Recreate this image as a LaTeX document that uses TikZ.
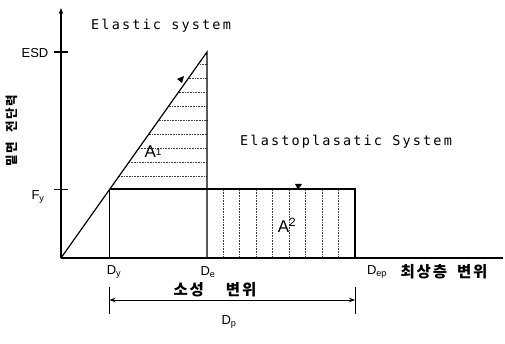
\documentclass[tikz,border=0pt]{standalone}
\usepackage{fontspec}
\setmainfont{Liberation Sans}
\newfontfamily\monolbl[LetterSpace=16]{DejaVu Sans Mono}
\newfontfamily\korlbl[LetterSpace=12]{Noto Sans CJK KR}
\newfontfamily\korvert[LetterSpace=12]{Noto Sans CJK KR}
\usetikzlibrary{arrows.meta,positioning,calc}

\begin{document}
\begin{tikzpicture}[
    x=1pt,y=-1pt,
    >=Stealth,
    curve/.style={line width=1.2pt,black},
    hatch/.style={densely dotted,line width=0.6pt,black!75},
    axlbl/.style={font=\fontsize{13}{14}\selectfont,inner sep=1pt},
    syslbl/.style={font=\monolbl\fontsize{13.5}{14}\selectfont,inner sep=0pt,anchor=west},
    kor/.style={font=\korlbl\bfseries\fontsize{15.5}{17}\selectfont,inner sep=0pt},
    flag/.style={fill=black},
  ]
  \useasboundingbox (0,0) rectangle (505,344);
  % Axes
  \coordinate (O) at (61,258);
  \coordinate (ytop) at (61,8);
  \coordinate (xend) at (503,258);
  \draw[line width=1.2pt,-{Stealth[length=6pt,width=4.5pt]}] (O) -- (ytop);
  \draw[line width=1.2pt] (O) -- (xend);
  % Key points
  \coordinate (peak) at (207,52);
  \coordinate (de) at (207,258);
  \coordinate (yld) at (109.5,189);
  \coordinate (dy) at (109.5,258);
  \coordinate (epr) at (355,189);
  \coordinate (dep) at (355,258);
  % Ticks on the y axis
  \draw[line width=1.2pt] (54,52) -- (68,52);
  \draw[line width=0.8pt] (54,189) -- (68,189);
  \node[axlbl] (esd) at (35,53) {ESD};
  \node[axlbl] (fy) at (38,197) {F\textsubscript{y}};
  % Hatching of A1 and A2
  \foreach \yy in {64,78,...,176}
    \draw[hatch] ({61+(258-\yy)/206*146},\yy) -- (207,\yy);
  \foreach \xx in {223,239.5,...,340}
    \draw[hatch] (\xx,190) -- (\xx,257);
  % Response curves
  \draw[curve] (O) -- (peak) -- (de);
  \draw[curve] (yld) -- (dy);
  \draw[curve] (yld) -- (epr) -- (dep);
  % Small flags
  \fill[flag] (295,184) -- (302,184) -- (298,189.5) -- cycle;
  \fill[flag] (177,79) -- (184,76) -- (182,83) -- cycle;
  % Area labels
  \node[font=\fontsize{17}{18}\selectfont] (a1) at (153,152) {A\raisebox{2pt}{\fontsize{10}{11}\selectfont 1}};
  \node[font=\fontsize{17}{18}\selectfont] (a2) at (287,225) {A\textsuperscript{2}};
  % System labels
  \node[syslbl] (elastic) at (91,26) {Elastic system};
  \node[syslbl] (plastic) at (240,142) {Elastoplasatic System};
  % Axis labels
  \node[axlbl] (lbdy) at (114,272) {D\textsubscript{y}};
  \node[axlbl] (lbde) at (208,272) {D\textsubscript{e}};
  \node[axlbl] (lbdep) at (377,272) {D\textsubscript{ep}};
  \node[kor] (top) at (444,272) {최상층\hspace{10pt}변위};
  \node[kor] (plas) at (215,290) {소성\hspace{22pt}변위};
  \node[font=\korvert\bfseries\fontsize{12.5}{14}\selectfont,rotate=90] (shear) at (12,131) {밑면\hspace{9pt}전단력};
  % Plastic displacement dimension
  \coordinate (dl) at (109.5,300);
  \coordinate (dr) at (355,300);
  \draw[line width=0.8pt] (109.5,287) -- (109.5,314);
  \draw[line width=0.8pt] (355,287) -- (355,314);
  \draw[line width=0.8pt,{Stealth[length=6pt,width=4.5pt]}-{Stealth[length=6pt,width=4.5pt]}] (dl) -- (dr);
  \node[axlbl] (dp) at (229,322) {D\textsubscript{p}};
\end{tikzpicture}
\end{document}
